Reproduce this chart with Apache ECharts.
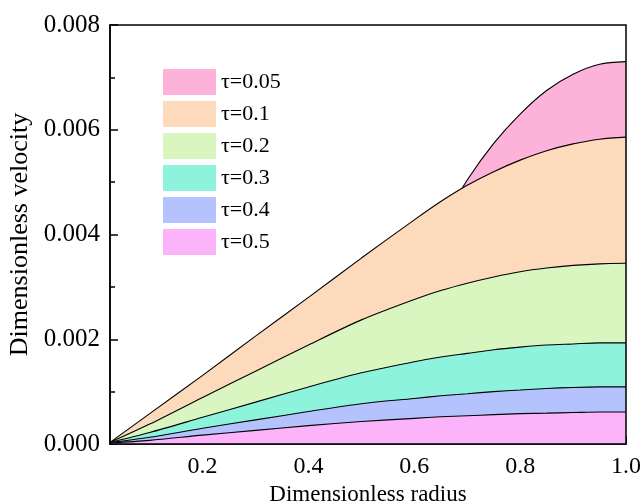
<!DOCTYPE html>
<html>
<head>
<meta charset="utf-8">
<script src="https://cdn.jsdelivr.net/npm/echarts@6/dist/echarts.min.js"></script>
<style>html,body{margin:0;padding:0;background:#fff}#c{width:643px;height:504px}</style>
</head>
<body>
<div id="c"></div>
<script>
const radius = [0.025, 0.1, 0.2, 0.3, 0.4, 0.5, 0.6, 0.65, 0.7, 0.75, 0.8, 0.85, 0.9, 0.95, 1.0];
const tau005 = [0.00002, 0.0002, 0.0006, 0.0011, 0.0018, 0.0026, 0.0036, 0.0042, 0.00504, 0.00574, 0.0063, 0.00675, 0.00706, 0.00725, 0.0073];
const tau01  = [0.00003, 0.00058, 0.00131, 0.00206, 0.0028, 0.00355, 0.00428, 0.00463, 0.00494, 0.0052, 0.00542, 0.0056, 0.00573, 0.00582, 0.00586];
const tau02  = [0.00003, 0.00038, 0.00089, 0.00139, 0.00189, 0.00237, 0.00276, 0.00293, 0.00307, 0.00319, 0.00329, 0.00336, 0.00341, 0.00344, 0.00345];
const tau03  = [0.00003, 0.00022, 0.00051, 0.0008, 0.00109, 0.00136, 0.00157, 0.00166, 0.00173, 0.0018, 0.00185, 0.00189, 0.00191, 0.00193, 0.00193];
const tau04  = [0.00003, 0.00013, 0.0003, 0.00046, 0.00062, 0.00077, 0.00087, 0.00092, 0.00096, 0.001, 0.00103, 0.00106, 0.00108, 0.00109, 0.00109];
const tau05  = [0.00002, 0.00007, 0.00017, 0.00026, 0.00035, 0.00043, 0.00049, 0.00052, 0.00054, 0.00056, 0.00058, 0.00059, 0.0006, 0.00061, 0.00061];
const seriesNames = ['τ=0.05', 'τ=0.1', 'τ=0.2', 'τ=0.3', 'τ=0.4', 'τ=0.5'];
const seriesValues = [tau005, tau01, tau02, tau03, tau04, tau05];
const fillColors = ['#FDB2DA', '#FDDABC', '#DAF6C0', '#8DF3DD', '#B4C3FD', '#FBB3F9'];
const xMajorTicks = [0.2, 0.4, 0.6, 0.8, 1.0];
const xMinorTicks = [0.1, 0.3, 0.5, 0.7, 0.9];

const FONT = 'Liberation Serif';
const chart = echarts.init(document.getElementById('c'), null, {renderer: 'canvas'});

const series = seriesNames.map((name, i) => ({
  name: name,
  type: 'line',
  xAxisIndex: 0,
  yAxisIndex: 0,
  data: radius.map((r, k) => [r, seriesValues[i][k]]),
  smooth: 0.3,
  showSymbol: false,
  symbol: 'none',
  itemStyle: {color: fillColors[i]},
  lineStyle: {color: '#000', width: 1.1},
  areaStyle: {color: fillColors[i], opacity: 1, origin: 'start'},
  z: 2 + i,
  silent: true,
  animation: false
}));

chart.setOption({
  animation: false,
  grid: {left: 110, right: 17, top: 25, bottom: 60, containLabel: false, outerBoundsMode: 'none', show: true, borderColor: '#000', borderWidth: 1.5, backgroundColor: 'transparent', z: 10},
  legend: {
    data: seriesNames,
    orient: 'vertical',
    left: 158,
    top: 64,
    icon: 'rect',
    itemWidth: 53,
    itemHeight: 26,
    itemGap: 6,
    selectedMode: false,
    itemStyle: {borderWidth: 0},
    textStyle: {fontFamily: FONT, fontSize: 22, color: '#000'}
  },
  xAxis: [{
    type: 'value',
    min: 0.025,
    max: 1.0,
    position: 'bottom',
    axisLine: {show: true, onZero: false, lineStyle: {color: '#000', width: 1.5}},
    axisTick: {show: true, inside: true, length: 8, customValues: xMajorTicks, lineStyle: {color: '#000', width: 1.5}},
    axisLabel: {customValues: xMajorTicks, fontFamily: FONT, fontSize: 24, color: '#000', margin: 11, formatter: v => v.toFixed(1)},
    splitLine: {show: false},
    name: 'Dimensionless radius',
    nameLocation: 'middle',
    nameGap: 36,
    nameTextStyle: {fontFamily: FONT, fontSize: 23, color: '#000'}
  }, {
    type: 'value',
    min: 0.025,
    max: 1.0,
    position: 'bottom',
    gridIndex: 0,
    axisLine: {show: false, onZero: false},
    axisTick: {show: true, inside: true, length: 5, customValues: xMinorTicks, lineStyle: {color: '#000', width: 1.5}},
    axisLabel: {show: false},
    splitLine: {show: false}
  }],
  yAxis: {
    type: 'value',
    min: 0,
    max: 0.008,
    interval: 0.002,
    axisLine: {show: true, onZero: false, lineStyle: {color: '#000', width: 1.5}},
    axisTick: {show: true, inside: true, length: 8, lineStyle: {color: '#000', width: 1.5}},
    minorTick: {show: true, splitNumber: 2, length: 5, lineStyle: {color: '#000', width: 1.5}},
    axisLabel: {fontFamily: FONT, fontSize: 25, color: '#000', margin: 10, formatter: v => v.toFixed(3)},
    splitLine: {show: false},
    name: 'Dimensionless velocity',
    nameLocation: 'middle',
    nameGap: 66,
    nameTextStyle: {fontFamily: FONT, fontSize: 26, color: '#000'}
  },
  series: series
});
</script>
</body>
</html>
